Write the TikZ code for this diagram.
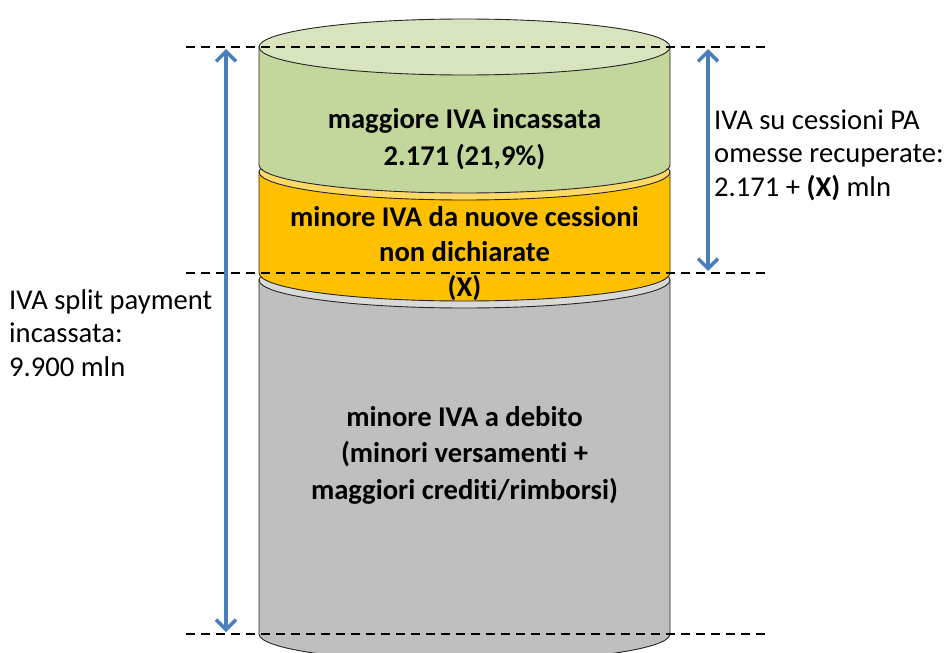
\documentclass[tikz,border=0pt]{standalone}
\usepackage{fontspec}
\setmainfont{Carlito}[Ligatures=NoCommon]
\usetikzlibrary{arrows.meta}
\definecolor{grnside}{HTML}{C3D69B}
\definecolor{grntop}{HTML}{D7E4BD}
\definecolor{orside}{HTML}{FFC000}
\definecolor{ortop}{HTML}{FFD966}
\definecolor{gyside}{HTML}{BFBFBF}
\definecolor{gytop}{HTML}{D9D9D9}
\definecolor{arblue}{HTML}{4A7EBB}
\newcommand\cylpart[4]{%
  \filldraw[fill=#3,draw=black!85,line width=0.9pt]
    (259,-#1) -- (259,-#2) arc[start angle=180,end angle=360,x radius=205.5,y radius=28]
    -- (670,-#1) -- cycle;
  \filldraw[fill=#4,draw=black!85,line width=0.9pt]
    (464.5,-#1) ellipse[x radius=205.5,y radius=28];
}
\begin{document}
\begin{tikzpicture}[x=1pt,y=1pt,
  guide/.style={draw=black,line width=1.8pt,dash pattern=on 9pt off 6pt},
  measure/.style={draw=arblue,line width=3.6pt,{Straight Barb[length=10pt,width=20pt,line width=3.4pt]}-{Straight Barb[length=10pt,width=20pt,line width=3.4pt]}},
  intext/.style={align=center,inner sep=0pt,font=\fontsize{28.6}{36.5}\selectfont\bfseries},
  sidetext/.style={align=left,inner sep=0pt,anchor=west,font=\fontsize{28.6}{33.5}\selectfont}]
\useasboundingbox (0,0) rectangle (951,-653);
\begin{scope}
\clip (0,0) rectangle (951,-653);
\cylpart{280}{634}{gyside}{gytop}
\cylpart{172}{273}{orside}{ortop}
\cylpart{47}{165}{grnside}{grntop}
\end{scope}
% guide lines
\coordinate (g1a) at (186,-47); \coordinate (g1b) at (766,-47);
\coordinate (g2a) at (186,-273); \coordinate (g2b) at (766,-273);
\coordinate (g3a) at (186,-634); \coordinate (g3b) at (766,-634);
\draw[guide] (g1a) -- (g1b);
\draw[guide] (g2a) -- (g2b);
\draw[guide] (g3a) -- (g3b);
% arrows
\coordinate (la1) at (226,-49); \coordinate (la2) at (226,-632);
\coordinate (ra1) at (708,-49); \coordinate (ra2) at (708,-271);
\draw[measure] (la1) -- (la2);
\draw[measure] (ra1) -- (ra2);
% texts
\node[intext] (tgreen) at (464.5,-139) {maggiore IVA incassata\\2.171 (21,9\%)};
\node[intext,font=\fontsize{28.6}{35}\selectfont\bfseries] (torange) at (464.5,-254) {minore IVA da nuove cessioni\\non dichiarate\\(X)};
\node[intext] (tgray) at (464.5,-455) {minore IVA a debito\\(minori versamenti +\\maggiori crediti/rimborsi)};
\node[sidetext] (tleft) at (9,-333) {IVA split payment\\incassata:\\9.900 mln};
\node[sidetext] (tright) at (714,-155) {IVA su cessioni PA\\omesse recuperate:\\2.171 + \textbf{(X)} mln};
\end{tikzpicture}
\end{document}
